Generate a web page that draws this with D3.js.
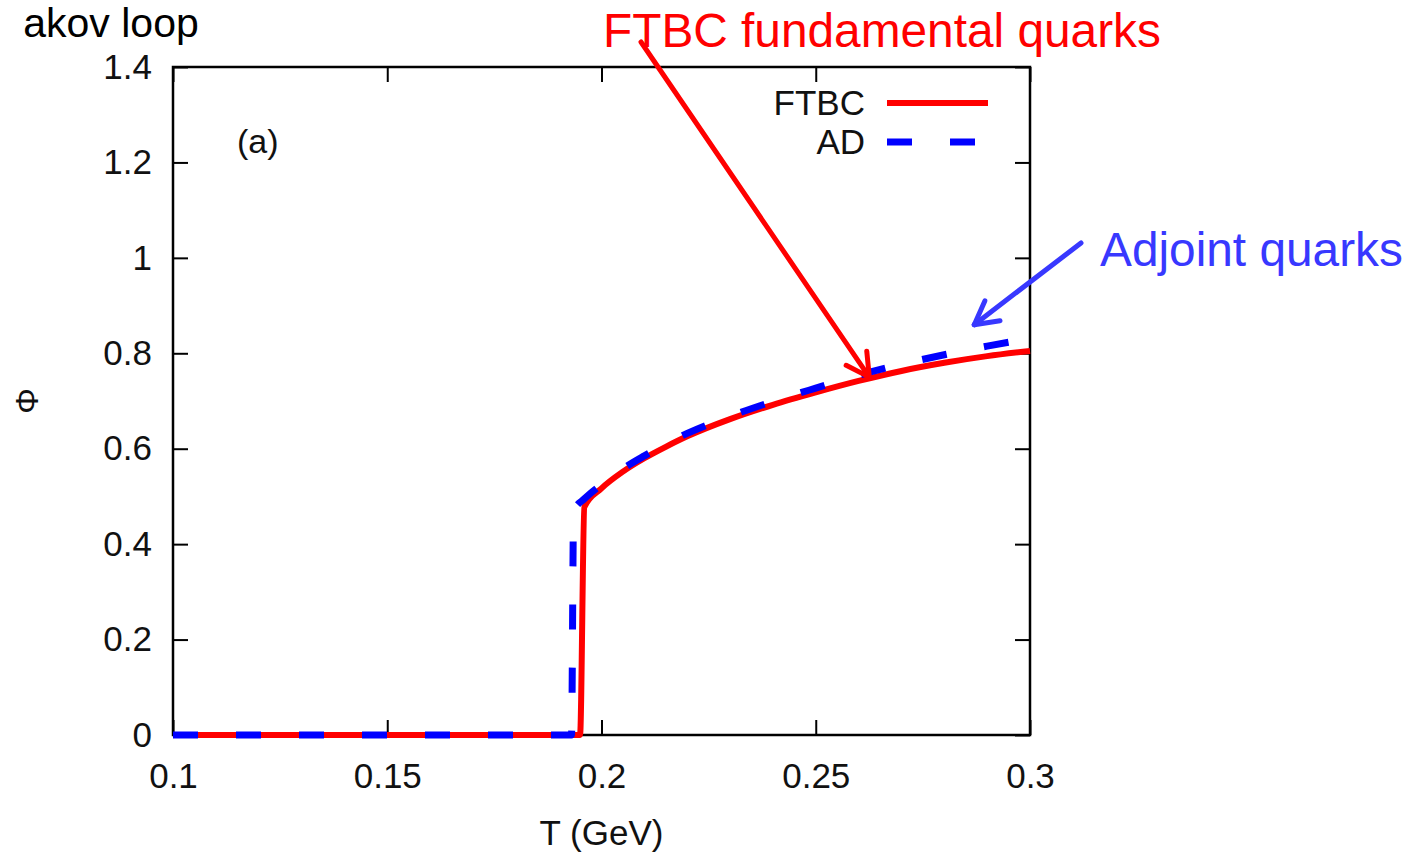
<!DOCTYPE html>
<html>
<head>
<meta charset="utf-8">
<script src="https://cdn.jsdelivr.net/npm/d3@7"></script>
<style>
  html, body { margin: 0; padding: 0; background: #fff; }
  svg { display: block; font-family: "Liberation Sans", Arial, sans-serif; }
</style>
</head>
<body>
<svg id="chart" width="1408" height="854"></svg>
<script>
// Polyakov loop Φ versus temperature T (GeV)
const tempFTBC = [0.1, 0.15, 0.195, 0.196, 0.2, 0.205, 0.21, 0.215, 0.22, 0.23, 0.24, 0.25, 0.26, 0.27, 0.28, 0.29, 0.3];
const phiFTBC  = [0,   0,    0,     0.478, 0.517, 0.552, 0.58, 0.604, 0.626, 0.662, 0.692, 0.718, 0.742, 0.763, 0.780, 0.794, 0.805];

const tempAD = [0.1, 0.15, 0.193, 0.1935, 0.196, 0.2, 0.205, 0.21, 0.22, 0.23, 0.24, 0.25, 0.26, 0.27, 0.28, 0.29, 0.3];
const phiAD  = [0,   0,    0,     0.47,   0.495, 0.525, 0.558, 0.585, 0.632, 0.668, 0.699, 0.727, 0.754, 0.777, 0.797, 0.815, 0.831];

const xTicks = [0.1, 0.15, 0.2, 0.25, 0.3];
const xTickLabels = ["0.1", "0.15", "0.2", "0.25", "0.3"];
const yTicks = [0, 0.2, 0.4, 0.6, 0.8, 1.0, 1.2, 1.4];
const yTickLabels = ["0", "0.2", "0.4", "0.6", "0.8", "1", "1.2", "1.4"];

const seriesNames = ["FTBC", "AD"];
const seriesColors = ["#ff0000", "#0000ff"];

(function draw() {
  const svg = d3.select("#chart");
  const pLeft = 173, pRight = 1030, pTop = 67, pBottom = 735;

  const x = d3.scaleLinear().domain([0.1, 0.3]).range([pLeft, pRight]);
  const y = d3.scaleLinear().domain([0, 1.4]).range([pBottom, pTop]);

  // Page heading fragment in the top-left corner
  svg.append("text")
    .attr("x", 111).attr("y", 37)
    .attr("text-anchor", "middle")
    .attr("font-size", 41)
    .attr("fill", "#000")
    .text("akov loop");

  // Axes with inward ticks on all four sides
  const tickLen = 15;
  function styleAxis(g) {
    g.select(".domain").remove();
    g.selectAll(".tick line").attr("stroke", "#000").attr("stroke-width", 2);
    g.selectAll(".tick text").attr("fill", "#111").attr("font-size", 35)
      .attr("font-family", "Liberation Sans, Arial, sans-serif");
  }

  svg.append("g")
    .attr("transform", `translate(0,${pBottom})`)
    .call(d3.axisBottom(x).tickValues(xTicks).tickFormat((d, i) => xTickLabels[i])
      .tickSize(-tickLen).tickSizeOuter(0).tickPadding(28))
    .call(styleAxis);

  svg.append("g")
    .attr("transform", `translate(0,${pTop})`)
    .call(d3.axisTop(x).tickValues(xTicks).tickFormat("").tickSize(-tickLen).tickSizeOuter(0))
    .call(styleAxis);

  svg.append("g")
    .attr("transform", `translate(${pLeft},0)`)
    .call(d3.axisLeft(y).tickValues(yTicks).tickFormat((d, i) => yTickLabels[i])
      .tickSize(-tickLen).tickSizeOuter(0).tickPadding(21))
    .call(styleAxis);

  svg.append("g")
    .attr("transform", `translate(${pRight},0)`)
    .call(d3.axisRight(y).tickValues(yTicks).tickFormat("").tickSize(-tickLen).tickSizeOuter(0))
    .call(styleAxis);

  // Plot frame
  svg.append("rect")
    .attr("x", pLeft).attr("y", pTop)
    .attr("width", pRight - pLeft).attr("height", pBottom - pTop)
    .attr("fill", "none").attr("stroke", "#000").attr("stroke-width", 2.5);

  // Axis titles
  svg.append("text")
    .attr("x", x(0.2)).attr("y", 845)
    .attr("text-anchor", "middle")
    .attr("font-size", 35).attr("fill", "#111")
    .text("T (GeV)");

  svg.append("text")
    .attr("transform", `translate(38,${y(0.7)}) rotate(-90)`)
    .attr("text-anchor", "middle")
    .attr("font-size", 32).attr("fill", "#111")
    .text("Φ");

  // Panel tag
  svg.append("text")
    .attr("x", 237).attr("y", 153)
    .attr("font-size", 34).attr("fill", "#111")
    .text("(a)");

  // Curves
  const line = d3.line().x(d => x(d[0])).y(d => y(d[1])).curve(d3.curveMonotoneX);
  const ftbcData = tempFTBC.map((t, i) => [t, phiFTBC[i]]);
  const adData = tempAD.map((t, i) => [t, phiAD[i]]);

  const plot = svg.append("g");
  plot.append("path")
    .datum(ftbcData)
    .attr("d", line)
    .attr("fill", "none")
    .attr("stroke", seriesColors[0])
    .attr("stroke-width", 6)
    .attr("stroke-linejoin", "round");

  plot.append("path")
    .datum(adData)
    .attr("d", line)
    .attr("fill", "none")
    .attr("stroke", seriesColors[1])
    .attr("stroke-width", 7)
    .attr("stroke-dasharray", "25,38");

  // Legend
  const legendX = 865, legendY = [103, 142];
  seriesNames.forEach((name, i) => {
    svg.append("text")
      .attr("x", legendX).attr("y", legendY[i])
      .attr("dy", "0.35em")
      .attr("text-anchor", "end")
      .attr("font-size", 35).attr("fill", "#111")
      .text(name);
    svg.append("line")
      .attr("x1", 887).attr("x2", 988)
      .attr("y1", legendY[i]).attr("y2", legendY[i])
      .attr("stroke", seriesColors[i])
      .attr("stroke-width", i === 0 ? 6 : 7)
      .attr("stroke-dasharray", i === 0 ? null : "25,38");
  });

  // Callouts pointing at the two curves
  function arrow(x1, y1, x2, y2, color, width) {
    const g = svg.append("g").attr("stroke", color).attr("stroke-width", width)
      .attr("stroke-linecap", "round").attr("fill", "none");
    g.append("line").attr("x1", x1).attr("y1", y1).attr("x2", x2).attr("y2", y2);
    const ang = Math.atan2(y2 - y1, x2 - x1);
    const head = 26, spread = 0.5;
    [ang + Math.PI - spread, ang + Math.PI + spread].forEach(a => {
      g.append("line")
        .attr("x1", x2).attr("y1", y2)
        .attr("x2", x2 + head * Math.cos(a)).attr("y2", y2 + head * Math.sin(a));
    });
  }

  svg.append("text")
    .attr("x", 603).attr("y", 47)
    .attr("font-size", 47.8).attr("fill", "#ff0000")
    .text("FTBC fundamental quarks");
  arrow(641, 42, x(0.2625), y(0.75), "#ff0000", 5);

  svg.append("text")
    .attr("x", 1100).attr("y", 266)
    .attr("font-size", 47.8).attr("fill", "#3838ff")
    .text("Adjoint quarks");
  arrow(1081, 243, x(0.287), y(0.86), "#3838ff", 5);
})();
</script>
</body>
</html>
